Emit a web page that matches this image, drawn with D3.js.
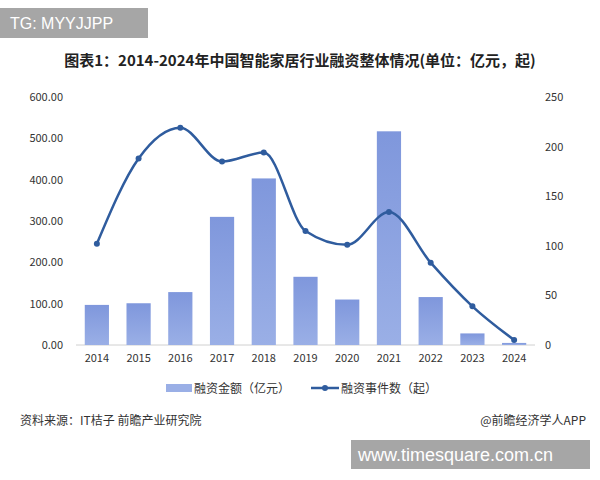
<!DOCTYPE html>
<html><head><meta charset="utf-8">
<script src="https://cdn.jsdelivr.net/npm/d3@7"></script>
<style>body{margin:0;background:#fff}</style>
</head><body><div id="chart"></div>
<script>
const years = ["2014","2015","2016","2017","2018","2019","2020","2021","2022","2023","2024"];
const amount = [97, 101, 128, 310, 403, 165, 110, 517, 116, 28, 5];
const events = [102, 188, 219, 185, 194, 115, 101, 134, 83, 39, 5];
const leftTicks = [0, 100, 200, 300, 400, 500, 600];
const rightTicks = [0, 50, 100, 150, 200, 250];

const width = 600, height = 480;
const font = "'Noto Sans CJK SC', 'Noto Sans', sans-serif";
const svg = d3.select("#chart").append("svg")
  .attr("width", width).attr("height", height)
  .style("font-family", font);

// top-left tag
svg.append("rect").attr("x", 0).attr("y", 8).attr("width", 148).attr("height", 30).attr("fill", "#a6a6a6");
svg.append("text").attr("x", 10).attr("y", 29).attr("fill", "#fff").attr("font-size", 16)
  .attr("font-family", "'Liberation Sans', sans-serif").text("TG: MYYJJPP");

// title
svg.append("text").attr("x", 300).attr("y", 66).attr("text-anchor", "middle")
  .attr("font-size", 15).attr("font-weight", "bold").attr("fill", "#222")
  .text("图表1：2014-2024年中国智能家居行业融资整体情况(单位：亿元，起)");

const x = d3.scaleBand().domain(years).range([76, 535]).paddingInner(0.42).paddingOuter(0.21);
const yL = d3.scaleLinear().domain([0, 600]).range([345, 97]);
const yR = d3.scaleLinear().domain([0, 250]).range([345, 97]);

// left axis
svg.append("g").selectAll("text").data(leftTicks).join("text")
  .attr("x", 63).attr("y", d => yL(d) + 4).attr("text-anchor", "end")
  .attr("font-size", 11).attr("fill", "#333").text(d => d.toFixed(2));
// right axis
svg.append("g").selectAll("text").data(rightTicks).join("text")
  .attr("x", 545).attr("y", d => yR(d) + 4)
  .attr("font-size", 11).attr("fill", "#333").text(d => d);

// baseline
svg.append("line").attr("x1", 76).attr("x2", 535).attr("y1", yL(0)).attr("y2", yL(0))
  .attr("stroke", "#d0d0d0");

// bars
const barGrad = svg.append("defs").append("linearGradient").attr("id", "bg")
  .attr("x1", 0).attr("x2", 0).attr("y1", 0).attr("y2", 1);
barGrad.append("stop").attr("offset", "0%").attr("stop-color", "#7f97dc");
barGrad.append("stop").attr("offset", "100%").attr("stop-color", "#9aafe6");
svg.append("g").selectAll("rect").data(amount).join("rect")
  .attr("x", (d, i) => x(years[i])).attr("width", x.bandwidth())
  .attr("y", d => yL(d)).attr("height", d => yL(0) - yL(d))
  .attr("fill", "url(#bg)");

// line
const cx = i => x(years[i]) + x.bandwidth() / 2;
const line = d3.line().x((d, i) => cx(i)).y(d => yR(d)).curve(d3.curveMonotoneX);
svg.append("path").datum(events).attr("d", line)
  .attr("fill", "none").attr("stroke", "#2f5c9e").attr("stroke-width", 2.5);
svg.append("g").selectAll("circle").data(events).join("circle")
  .attr("cx", (d, i) => cx(i)).attr("cy", d => yR(d)).attr("r", 3)
  .attr("fill", "#2f5c9e");

// x labels
svg.append("g").selectAll("text").data(years).join("text")
  .attr("x", d => x(d) + x.bandwidth() / 2).attr("y", 362)
  .attr("text-anchor", "middle").attr("font-size", 11).attr("fill", "#333").text(d => d);

// legend
svg.append("rect").attr("x", 166).attr("y", 384).attr("width", 26).attr("height", 8).attr("fill", "#9aafe6");
svg.append("text").attr("x", 194).attr("y", 393).attr("font-size", 12).attr("fill", "#333").text("融资金额（亿元）");
svg.append("line").attr("x1", 311).attr("x2", 339).attr("y1", 388).attr("y2", 388)
  .attr("stroke", "#2f5c9e").attr("stroke-width", 2.5);
svg.append("circle").attr("cx", 325).attr("cy", 388).attr("r", 3).attr("fill", "#2f5c9e");
svg.append("text").attr("x", 341).attr("y", 393).attr("font-size", 12).attr("fill", "#333").text("融资事件数（起）");

// footer
svg.append("text").attr("x", 20).attr("y", 425).attr("font-size", 12).attr("fill", "#333")
  .text("资料来源：IT桔子 前瞻产业研究院");
svg.append("text").attr("x", 586).attr("y", 425).attr("text-anchor", "end").attr("font-size", 12)
  .attr("fill", "#333").text("@前瞻经济学人APP");
svg.append("rect").attr("x", 351).attr("y", 440).attr("width", 239).attr("height", 29).attr("fill", "#a6a6a6");
svg.append("text").attr("x", 358).attr("y", 461).attr("font-size", 18).attr("fill", "#fff")
  .attr("font-family", "'Liberation Sans', sans-serif").text("www.timesquare.com.cn");
</script>
</body></html>
